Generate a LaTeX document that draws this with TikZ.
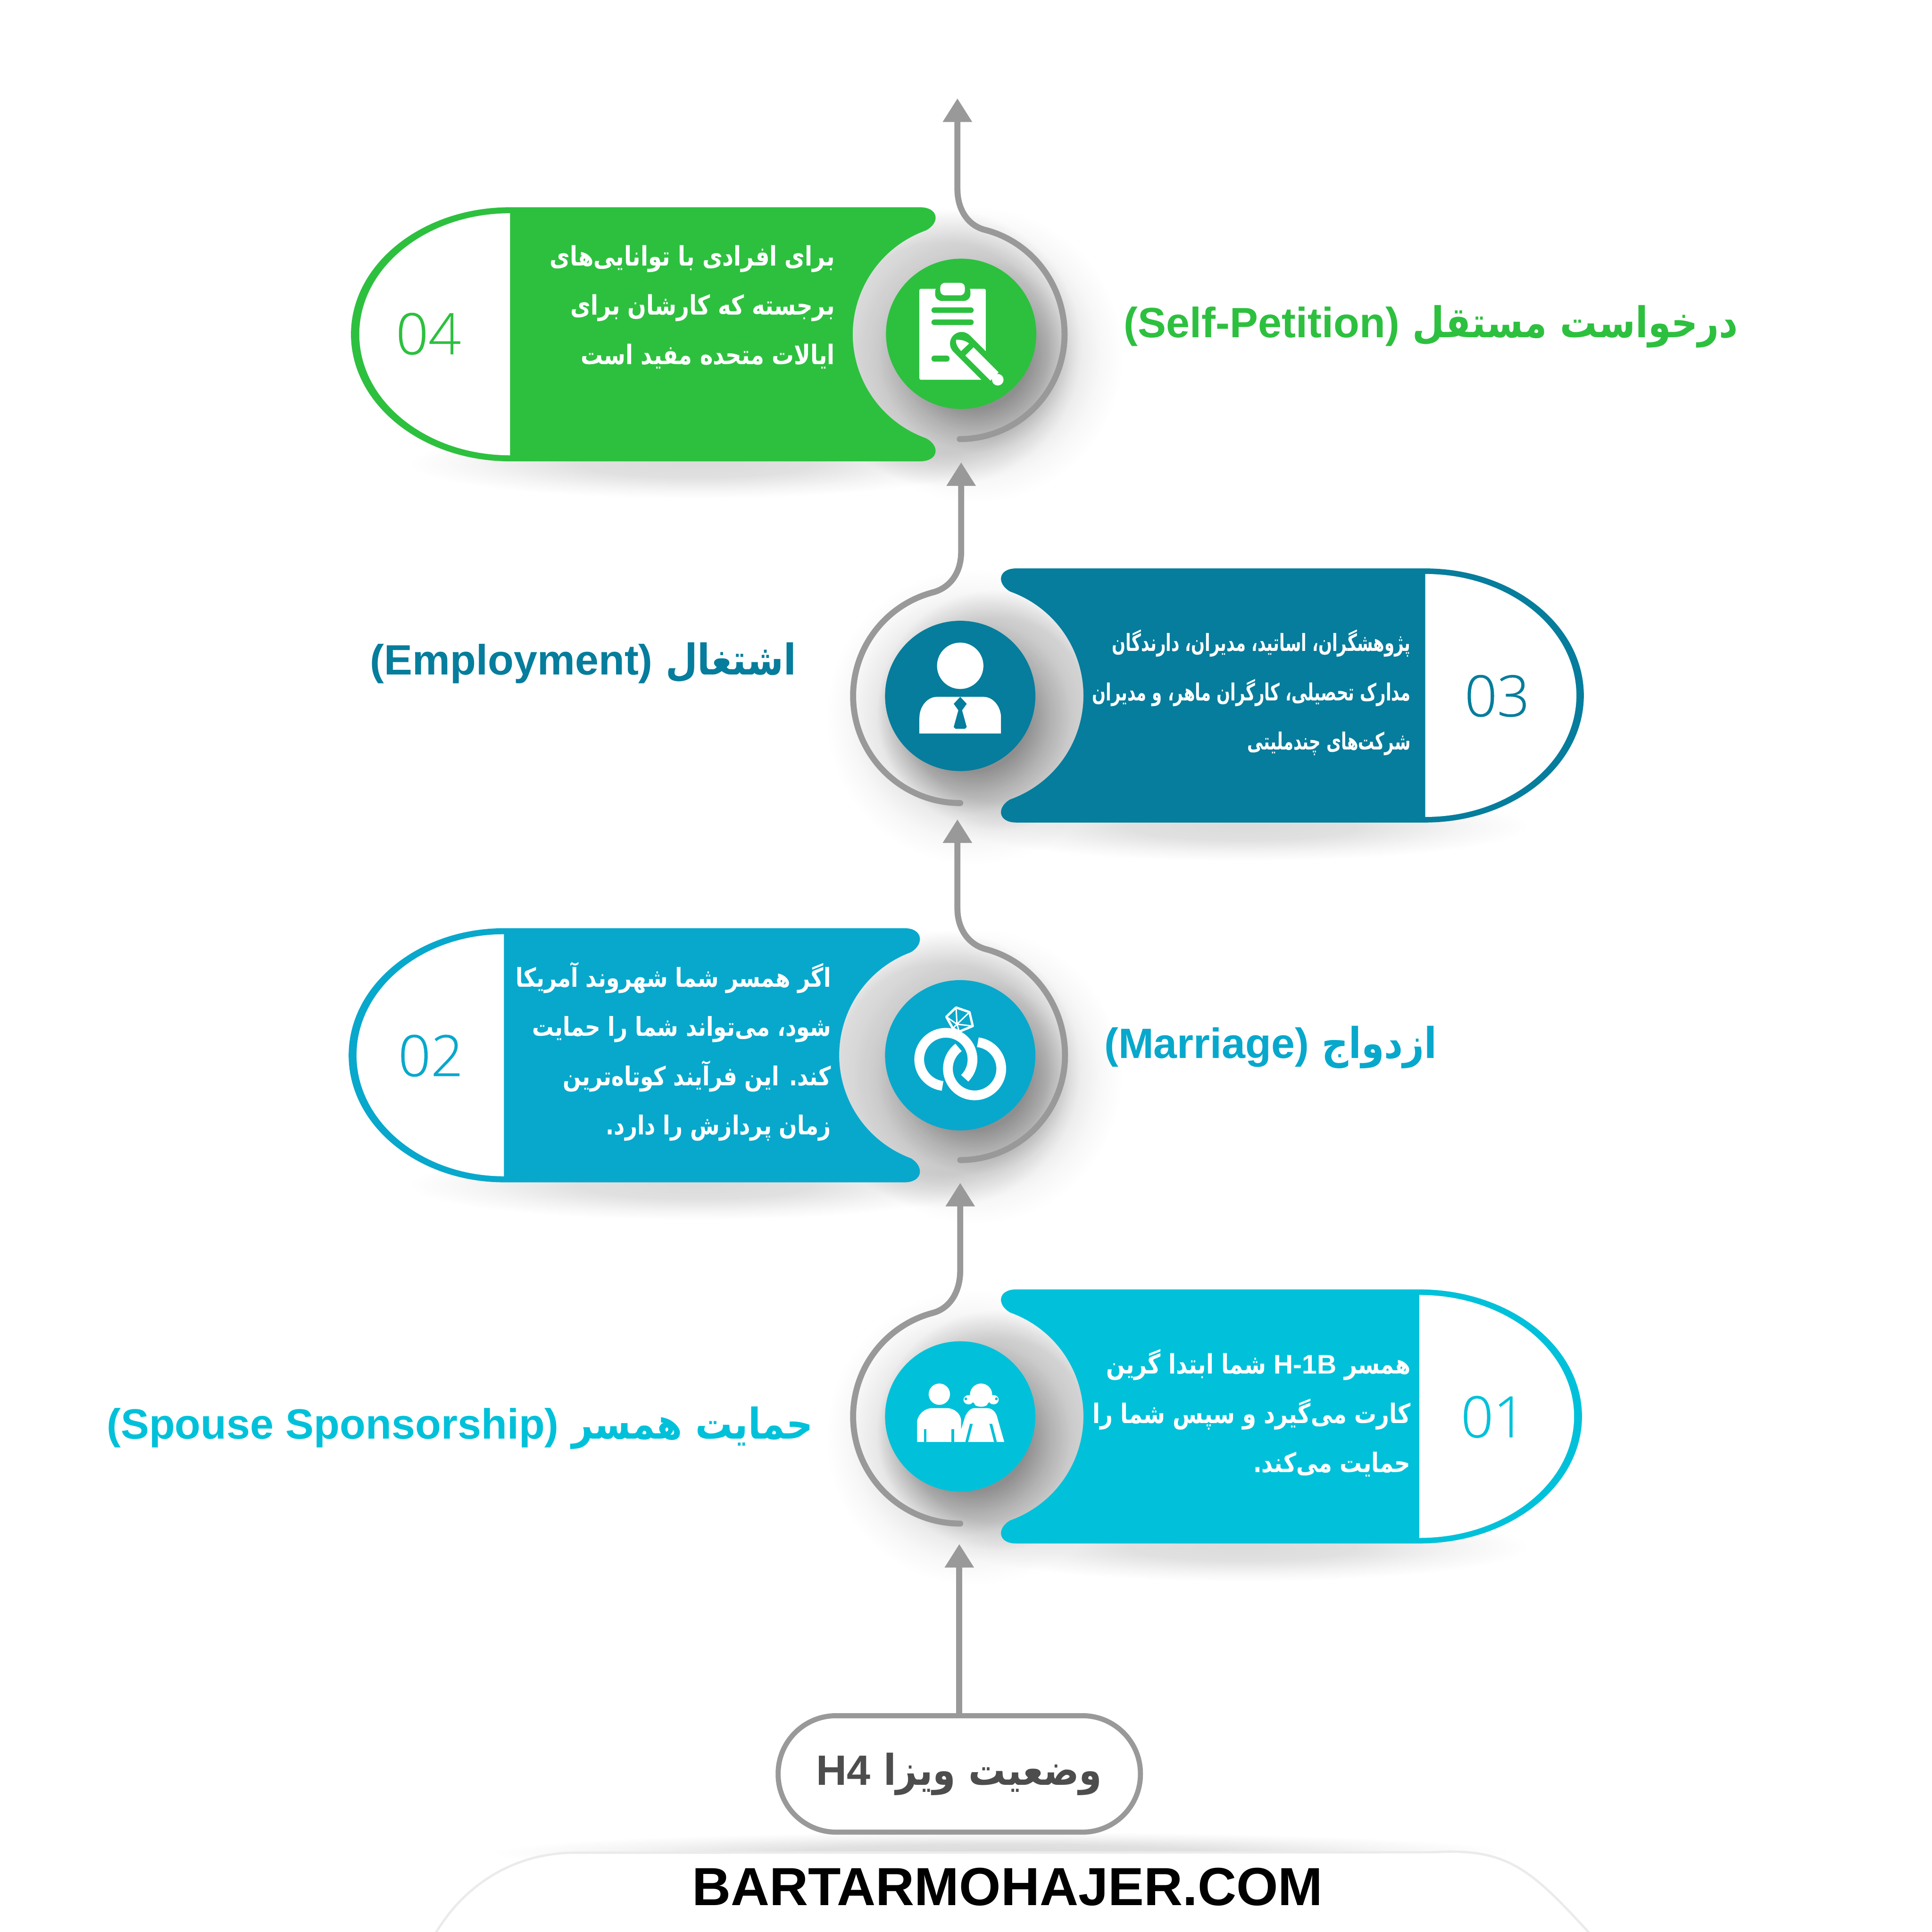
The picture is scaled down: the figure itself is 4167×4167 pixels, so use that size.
\documentclass[tikz,border=0pt]{standalone}
\usepackage{fontspec}
\usetikzlibrary{arrows.meta}
\TeXXeTstate=1
\newfontfamily\farsifont[Script=Arabic,FakeStretch=0.87]{DejaVu Sans}
\newfontfamily\farsibody[Script=Arabic,FakeStretch=0.82]{DejaVu Sans}
\newfontfamily\farsinarrow[Script=Arabic,FakeStretch=0.68]{DejaVu Sans}
\newfontfamily\latinfont{Liberation Sans}
\newfontfamily\numberfont[FakeBold=0.4]{Open Sans Light}
\definecolor{stagegreen}{HTML}{2DC03F}
\definecolor{stageteal}{HTML}{067D9C}
\definecolor{stageblue}{HTML}{08A8CC}
\definecolor{stagecyan}{HTML}{00C1D9}
\definecolor{flowgray}{HTML}{999999}
\definecolor{visatext}{HTML}{4D4D4D}
\pgfdeclareradialshading{softdisc}{\pgfpoint{0bp}{0bp}}{color(0bp)=(black!38); color(9bp)=(black!36); color(13bp)=(black!20); color(16.5bp)=(black!9); color(21bp)=(black!3); color(25bp)=(white); color(50bp)=(white)}
\pgfdeclareradialshading{softhalo}{\pgfpoint{0bp}{0bp}}{color(0bp)=(black!12); color(19bp)=(black!12); color(25bp)=(white); color(50bp)=(white)}
\pgfdeclareradialshading{softband}{\pgfpoint{0bp}{0bp}}{color(0bp)=(black!14); color(10bp)=(black!12); color(19bp)=(black!4); color(25bp)=(white); color(50bp)=(white)}
\tikzset{
  stagecircle/.style={circle,minimum size=3.24cm,inner sep=0pt},
  flowline/.style={draw=flowgray,line width=0.13cm,line cap=round,-{Triangle[width=0.6cm,length=0.51cm]}},
  titletext/.style={anchor=east,inner sep=0pt,font=\farsifont\bfseries\fontsize{26}{30}\selectfont},
  bodytext/.style={anchor=east,inner sep=0pt,align=right,text=white,font=\farsibody\bfseries\fontsize{16.5}{30.2}\selectfont},
  numbertext/.style={inner sep=0pt,font=\numberfont\fontsize{35}{40}\selectfont},
  diskshadow/.style={shading=softdisc},
  haloshadow/.style={shading=softhalo},
  bandshadow/.style={shading=softband}
}
\begin{document}
\begin{tikzpicture}[x=0.01cm,y=-0.01cm]
  \useasboundingbox (0,0) rectangle (4167,4167);

  % Shadows
  \begin{scope}[blend mode=multiply]
    \shade[bandshadow] (1500,1000) ellipse[x radius=620,y radius=75];
    \shade[bandshadow] (2680,1782) ellipse[x radius=620,y radius=75];
    \shade[bandshadow] (1500,2556) ellipse[x radius=620,y radius=75];
    \shade[bandshadow] (2680,3336) ellipse[x radius=620,y radius=75];
    \shade[haloshadow] (2033,750) circle[radius=300];
    \shade[haloshadow] (2151,1531) circle[radius=260];
    \shade[haloshadow] (2031,2306) circle[radius=300];
    \shade[haloshadow] (2151,3085) circle[radius=260];
    \shade[diskshadow] (2103,765) circle[radius=320];
    \shade[diskshadow] (2101,1546) circle[radius=320];
    \shade[diskshadow] (2101,2321) circle[radius=320];
    \shade[diskshadow] (2101,3100) circle[radius=320];
    \shade[bandshadow] (2160,3996) ellipse[x radius=1100,y radius=45];
  \end{scope}

  % Panel: 04
  \fill[stagegreen] (1100,447) -- (1984,447) .. controls (2024,447) and (2029,480) .. (1997,497)
    arc[start angle=250.3,end angle=109.7,radius=238]
    .. controls (2029,962) and (2024,995) .. (1984,995) -- (1100,995)
    arc[start angle=90,end angle=270,x radius=343,y radius=274] -- cycle;
  \fill[white] (1100,460) arc[start angle=270,end angle=90,x radius=325,y radius=261] -- cycle;

  % Panel: 03
  \fill[stageteal] (3074,1226) -- (2192,1226) .. controls (2152,1226) and (2149,1259) .. (2179,1276)
    arc[start angle=-70.3,end angle=70.3,radius=238]
    .. controls (2149,1741) and (2152,1774) .. (2192,1774) -- (3074,1774)
    arc[start angle=90,end angle=-90,x radius=342,y radius=274] -- cycle;
  \fill[white] (3074,1238) arc[start angle=-90,end angle=90,x radius=326,y radius=262] -- cycle;

  % Panel: 02
  \fill[stageblue] (1087,2002) -- (1951,2002) .. controls (1991,2002) and (1994,2037) .. (1964,2054)
    arc[start angle=249.5,end angle=110.5,radius=237]
    .. controls (1994,2515) and (1991,2550) .. (1951,2550) -- (1087,2550)
    arc[start angle=90,end angle=270,x radius=335,y radius=274] -- cycle;
  \fill[white] (1087,2015) arc[start angle=270,end angle=90,x radius=318,y radius=261] -- cycle;

  % Panel: 01
  \fill[stagecyan] (3061,2781) -- (2192,2781) .. controls (2152,2781) and (2149,2814) .. (2179,2831)
    arc[start angle=-70.3,end angle=70.3,radius=238]
    .. controls (2149,3296) and (2152,3329) .. (2192,3329) -- (3061,3329)
    arc[start angle=90,end angle=-90,x radius=351,y radius=274] -- cycle;
  \fill[white] (3061,2793) arc[start angle=-90,end angle=90,x radius=334,y radius=262] -- cycle;

  % Flow lines
  \coordinate (ring4) at (2070,947);
  \coordinate (tip4) at (2065,212);
  \coordinate (ring3) at (2071,1732);
  \coordinate (tip3) at (2073,997);
  \coordinate (ring2) at (2071,2502);
  \coordinate (tip2) at (2065,1767);
  \coordinate (ring1) at (2071,3286);
  \coordinate (tip1) at (2071,2551);
  \coordinate (tip0) at (2069,3330);
  \draw[flowline] (ring4) arc[start angle=90,end angle=0,radius=226]
    arc[start angle=0,end angle=-76,x radius=226,y radius=232]
    .. controls (2086,486) and (2065,450) .. (2065,408) -- (tip4);
  \draw[flowline] (ring3) arc[start angle=90,end angle=255.4,radius=231]
    .. controls (2050,1267) and (2073,1235) .. (2073,1190) -- (tip3);
  \draw[flowline] (ring2) arc[start angle=90,end angle=0,radius=226]
    arc[start angle=0,end angle=-76,x radius=226,y radius=236]
    .. controls (2086,2036) and (2065,2000) .. (2065,1960) -- (tip2);
  \draw[flowline] (ring1) arc[start angle=90,end angle=255.4,radius=231]
    .. controls (2050,2821) and (2071,2785) .. (2071,2740) -- (tip1);

  % Start node
  \node[draw=flowgray,line width=0.11cm,rounded corners=1.25cm,minimum width=7.81cm,minimum height=2.51cm,
    inner sep=0pt,text=visatext,font=\farsifont\bfseries\fontsize{26}{30}\selectfont] (visa) at (2069,3826)
    {\beginR وضعیت ویزا \beginL{\latinfont H4}\endL\endR};
  \draw[flowline] (visa.north) -- (tip0);

  % Stage circles
  \node[stagecircle,fill=stagegreen] (stage4) at (2073,720) {};
  \node[stagecircle,fill=stageteal] (stage3) at (2071,1501) {};
  \node[stagecircle,fill=stageblue] (stage2) at (2071,2276) {};
  \node[stagecircle,fill=stagecyan] (stage1) at (2071,3055) {};

  % Icon: clipboard
  \fill[white,rounded corners=0.03cm] (1983,623) rectangle (2126,819);
  \fill[stagegreen,rounded corners=0.14cm] (2017,615) rectangle (2093,649);
  \fill[stagegreen] (2017,615) rectangle (2093,623);
  \fill[white,rounded corners=0.1cm] (2028,610) rectangle (2081,637);
  \fill[stagegreen,rounded corners=0.06cm] (2009,663) rectangle (2100,675);
  \fill[stagegreen,rounded corners=0.06cm] (2009,689) rectangle (2100,701);
  \fill[stagegreen,rounded corners=0.06cm] (2009,767) rectangle (2048,780);
  \draw[stagegreen,line width=0.5cm,line cap=round] (2074,741) -- (2152,819);
  \fill[white] (2062,733) .. controls (2072,732) and (2083,735) .. (2090,741) -- (2073,757) .. controls (2066,750) and (2061,742) .. (2062,733) -- cycle;
  \draw[white,line width=0.25cm] (2091,758) -- (2145,812);
  \fill[white] (2152,819) circle[radius=12.5];

  % Icon: person
  \begin{scope}[shift={(2071,1500)}]
    \fill[white] (0,-64) circle[radius=50];
    \fill[white] (-88,82) -- (-88,48) .. controls (-88,25) and (-72,3) .. (-50,3) -- (50,3)
      .. controls (72,3) and (88,25) .. (88,48) -- (88,82) -- cycle;
    \fill[stageteal] (0,3) -- (14,18) -- (4,32) -- (14,68) -- (10,72) -- (-10,72) -- (-14,68) -- (-4,32) -- (-14,18) -- cycle;
  \end{scope}

  % Icon: rings
  \begin{scope}[shift={(2071,2276)}]
    \draw[white,line width=0.21cm] (31,29) ++(-83:57.5) arc[start angle=-83,end angle=233,radius=57.5];
    \draw[white,line width=0.21cm] (-31,9) ++(45:57.5) arc[start angle=45,end angle=-263,radius=57.5];
    \draw[white,line width=0.05cm,line join=round] (-9,-103) -- (20,-93) -- (27,-63) -- (-2,-51) -- (-16,-58) -- (-30,-83) -- cycle;
    \draw[white,line width=0.03cm] (-7,-67) -- (-9,-103) (-7,-67) -- (20,-93) (-7,-67) -- (27,-63)
      (-7,-67) -- (-30,-83) (-7,-67) -- (-16,-58) (-7,-67) -- (-2,-51);
  \end{scope}

  % Icon: couple
  \begin{scope}[shift={(2071,3055)}]
    \fill[white] (-45,-48) circle[radius=23];
    \fill[white] (-93,55) -- (-93,10) .. controls (-90,-6) and (-76,-18) .. (-60,-18) -- (-29,-18)
      .. controls (-13,-18) and (2,-6) .. (2,10) -- (2,28) -- (11,-1) .. controls (16,-10) and (22,-18) .. (31,-18)
      -- (58,-18) .. controls (68,-18) and (76,-10) .. (79,-1) -- (95,55) -- cycle;
    \fill[stagecyan] (-78,27) rectangle (-73,55);
    \fill[stagecyan] (-19,27) rectangle (-13,55);
    \fill[stagecyan] (21,16) -- (27,16) -- (17,55) -- (11,55) -- cycle;
    \fill[stagecyan] (63,16) -- (69,16) -- (79,55) -- (73,55) -- cycle;
    \fill[white] (45,-47) circle[radius=24];
    \fill[white] (45,-27) ellipse[x radius=14,y radius=6];
    \fill[white] (18,-36) ellipse[x radius=11,y radius=10];
    \fill[white] (72,-36) ellipse[x radius=11,y radius=10];
    \fill[stagecyan] (12,-38) circle[radius=3];
    \fill[stagecyan] (78,-38) circle[radius=3];
  \end{scope}

  % Numbers
  \node[numbertext,text=stagegreen] (num4) at (924,720) {04};
  \node[numbertext,text=stageteal] (num3) at (3229,1501) {03};
  \node[numbertext,text=stageblue] (num2) at (929,2277) {02};
  \node[numbertext,text=stagecyan] (num1) at (3221,3056) {01};

  % Panel texts
  \node[bodytext] (body4) at (1801,662) {\beginR برای افرادی با توانایی‌های\endR\\\beginR برجسته که کارشان برای\endR\\\beginR ایالات متحده مفید است\endR};
  \node[bodytext,font=\farsinarrow\bfseries\fontsize{14.5}{30.2}\selectfont] (body3) at (3043,1494) {\beginR پژوهشگران، اساتید، مدیران، دارندگان\endR\\\beginR مدارک تحصیلی، کارگران ماهر، و مدیران\endR\\\beginR شرکت‌های چندملیتی\endR};
  \node[bodytext,font=\farsibody\bfseries\fontsize{16}{30.2}\selectfont] (body2) at (1793,2268) {\beginR اگر همسر شما شهروند آمریکا\endR\\\beginR شود، می‌تواند شما را حمایت\endR\\\beginR کند. این فرآیند کوتاه‌ترین\endR\\\beginR زمان پردازش را دارد.\endR};
  \node[bodytext] (body1) at (3043,3048) {\beginR همسر \beginL{\latinfont H-1B}\endL{} شما ابتدا گرین\endR\\\beginR کارت می‌گیرد و سپس شما را\endR\\\beginR حمایت می‌کند.\endR};

  % Titles
  \node[titletext,text=stagegreen] (title4) at (3749,704) {\beginR درخواست مستقل \beginL{\latinfont (Self-Petition)}\endL\endR};
  \node[titletext,text=stageteal] (title3) at (1718,1430) {\beginR اشتغال \beginL{\latinfont (Employment)}\endL\endR};
  \node[titletext,text=stageblue] (title2) at (3100,2259) {\beginR ازدواج \beginL{\latinfont (Marriage)}\endL\endR};
  \node[titletext,text=stagecyan] (title1) at (1755,3080) {\beginR حمایت همسر \beginL{\latinfont (Spouse Sponsorship)}\endL\endR};

  % Site tab
  \fill[white,draw=black!8,line width=0.05cm] (941,4180) -- (941,4167) .. controls (1000,4070) and (1100,4000) .. (1230,3996)
    -- (3090,3995) .. controls (3250,3985) and (3300,4030) .. (3426,4167) -- (3426,4180) -- cycle;
  \node[inner sep=0pt,font=\latinfont\bfseries\fontsize{32.9}{36}\selectfont] (site) at (2173,4070) {BARTARMOHAJER.COM};
\end{tikzpicture}
\end{document}
